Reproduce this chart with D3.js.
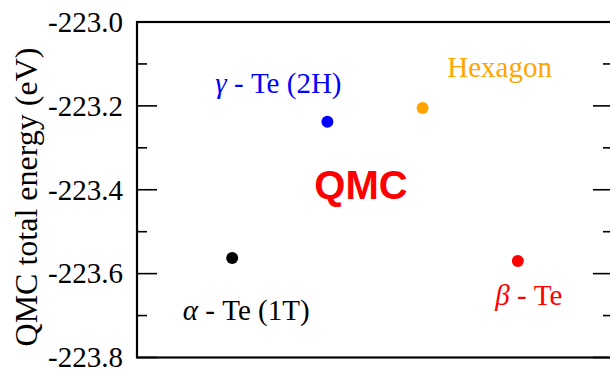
<!DOCTYPE html>
<html>
<head>
<meta charset="utf-8">
<script src="https://cdn.jsdelivr.net/npm/d3@7"></script>
<style>
  html, body { margin: 0; padding: 0; background: #fff; }
  svg { display: block; }
  .serif { font-family: "Liberation Serif", "Times New Roman", Times, serif; }
  .sans { font-family: "Liberation Sans", Arial, Helvetica, sans-serif; }
</style>
</head>
<body>
<svg id="chart" width="610" height="372"></svg>
<script>
// ---- data ----
const phases = ["α-Te (1T)", "γ-Te (2H)", "Hexagon", "β-Te"];
const greek = ["α", "γ", "", "β"];
const suffix = [" - Te (1T)", " - Te (2H)", "Hexagon", " - Te"];
const xPos = [1, 2, 3, 4];
const energies = [-223.563, -223.238, -223.205, -223.570];
const colors = ["#000000", "#0000ff", "#ffa500", "#ff0000"];
const majorTicks = [-223.8, -223.6, -223.4, -223.2, -223.0];
const minorTicks = [-223.7, -223.5, -223.3, -223.1];
const yTitle = "QMC total energy (eV)";
const panelTitle = "QMC";

// ---- layout ----
const svg = d3.select("#chart");
const mLeft = 137, mRight = 613, mTop = 22, mBottom = 357.5;
const x = d3.scaleLinear().domain([0, 5]).range([mLeft, mRight]);
const y = d3.scaleLinear().domain([-223.8, -223.0]).range([mBottom, mTop]);

// label offsets relative to dot (px)
const labelOffsets = [[14, 62], [-49, -29], [77, -31], [11, 44]];

// frame
svg.append("rect")
  .attr("x", mLeft).attr("y", mTop)
  .attr("width", mRight - mLeft).attr("height", mBottom - mTop)
  .attr("fill", "none").attr("stroke", "#000").attr("stroke-width", 2.2);

// ticks left & right
const tickG = svg.append("g").attr("stroke", "#000").attr("stroke-width", 1.6);
majorTicks.forEach(v => {
  tickG.append("line").attr("x1", mLeft).attr("x2", mLeft + 20).attr("y1", y(v)).attr("y2", y(v));
  tickG.append("line").attr("x1", mRight).attr("x2", mRight - 20).attr("y1", y(v)).attr("y2", y(v));
});
minorTicks.forEach(v => {
  tickG.append("line").attr("x1", mLeft).attr("x2", mLeft + 10).attr("y1", y(v)).attr("y2", y(v));
  tickG.append("line").attr("x1", mRight).attr("x2", mRight - 10).attr("y1", y(v)).attr("y2", y(v));
});

// tick labels
svg.append("g").selectAll("text").data(majorTicks).join("text")
  .attr("class", "serif")
  .attr("x", 123).attr("y", d => y(d))
  .attr("dy", "0.34em")
  .attr("text-anchor", "end")
  .attr("font-size", 29)
  .attr("fill", "#000")
  .text(d => d.toFixed(1));

// y title
svg.append("text")
  .attr("class", "serif")
  .attr("transform", "translate(37,197) rotate(-90)")
  .attr("text-anchor", "middle")
  .attr("font-size", 32)
  .attr("fill", "#000")
  .text(yTitle);

// points
svg.append("g").selectAll("circle").data(energies).join("circle")
  .attr("cx", (d, i) => x(xPos[i]))
  .attr("cy", d => y(d))
  .attr("r", 6)
  .attr("fill", (d, i) => colors[i]);

// labels
const labs = svg.append("g").selectAll("text").data(energies).join("text")
  .attr("class", "serif")
  .attr("x", (d, i) => x(xPos[i]) + labelOffsets[i][0])
  .attr("y", (d, i) => y(d) + labelOffsets[i][1])
  .attr("text-anchor", "middle")
  .attr("font-size", 29)
  .attr("fill", (d, i) => colors[i]);
labs.each(function(d, i) {
  const t = d3.select(this);
  if (greek[i]) t.append("tspan").attr("font-style", "italic").text(greek[i]);
  t.append("tspan").text(suffix[i]);
});

// panel title
svg.append("text")
  .attr("class", "sans")
  .attr("x", 361).attr("y", 199)
  .attr("text-anchor", "middle")
  .attr("font-weight", "bold")
  .attr("font-size", 40)
  .attr("fill", "#ff0000")
  .text(panelTitle);
</script>
</body>
</html>
